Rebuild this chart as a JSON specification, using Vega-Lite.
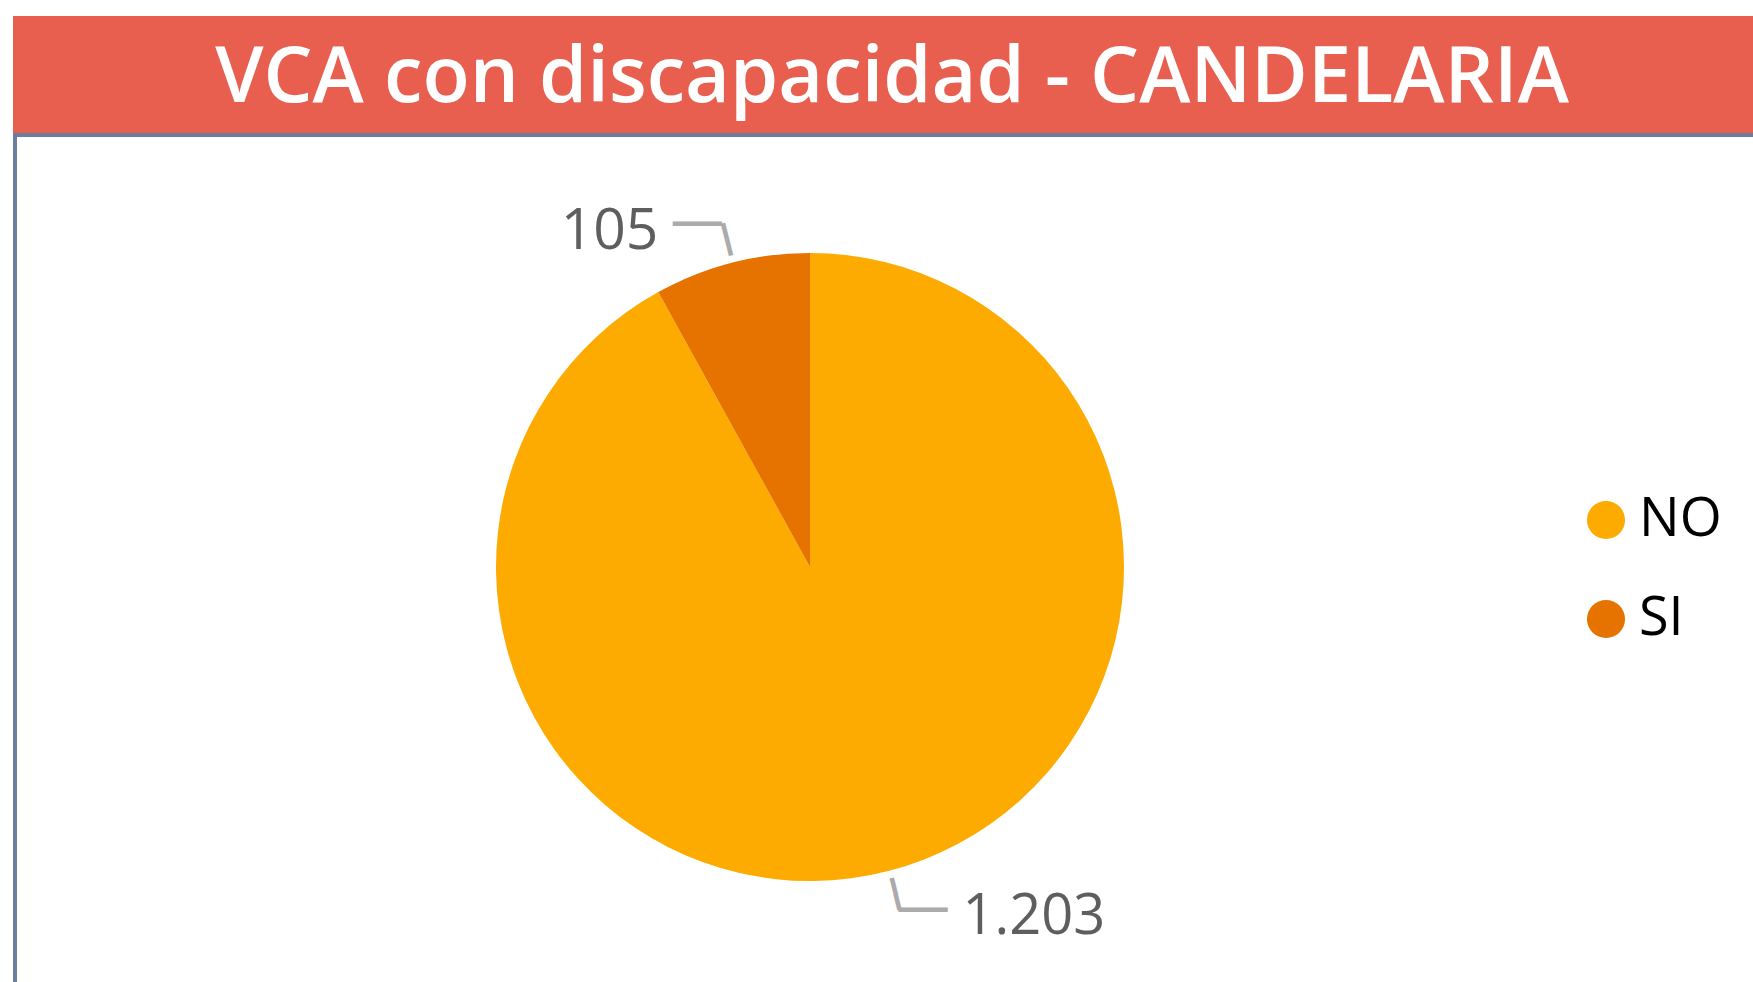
{
  "$schema": "https://vega.github.io/schema/vega-lite/v6.json",
  "padding": {"left": 13, "top": 16, "right": 0, "bottom": 0},
  "background": "white",
  "config": {
    "locale": {"number": {"decimal": ",", "thousands": ".", "grouping": [3], "currency": ["", ""]}},
    "view": {"stroke": null}
  },
  "spacing": 0,
  "vconcat": [
    {
      "width": 1740,
      "height": 117,
      "view": {"fill": "#E85E4F", "stroke": null},
      "data": {"values": [{"title": "VCA con discapacidad - CANDELARIA"}]},
      "mark": {"type": "text", "color": "#FFFFFF", "font": "Open Sans", "fontSize": 77.5, "fontWeight": 600, "baseline": "middle", "align": "center", "dx": 9, "dy": 4},
      "encoding": {"text": {"field": "title"}}
    },
    {
      "width": 1740,
      "height": 4,
      "view": {"fill": "#6B7F9C", "stroke": null},
      "data": {"values": []},
      "mark": {"type": "text", "text": ""}
    },
    {
      "spacing": 0,
      "hconcat": [
        {
          "width": 4,
          "height": 860,
          "view": {"fill": "#6B7F9C", "stroke": null},
          "data": {"values": []},
          "mark": {"type": "text", "text": ""}
        },
        {
          "width": 1586,
          "height": 860,
          "data": {"values": [{"cat": "NO", "count": 1203}, {"cat": "SI", "count": 105}]},
          "encoding": {
            "theta": {"field": "count", "type": "quantitative", "stack": true},
            "order": {"field": "cat", "type": "ordinal", "sort": "ascending"}
          },
          "layer": [
            {
              "mark": {"type": "arc", "radius": 314},
              "encoding": {
                "color": {
                  "field": "cat",
                  "type": "nominal",
                  "scale": {"domain": ["NO", "SI"], "range": ["#FDAB00", "#E67300"]},
                  "legend": {
                    "title": null,
                    "orient": "none",
                    "legendX": 1566,
                    "legendY": 477,
                    "symbolType": "circle",
                    "symbolSize": 1450,
                    "symbolStrokeWidth": 0,
                    "symbolOpacity": 1,
                    "labelFont": "Open Sans",
                    "labelFontSize": 54,
                    "labelColor": "#000000",
                    "labelOffset": 6,
                    "rowPadding": 45
                  }
                }
              }
            },
            {
              "mark": {"type": "text", "radius": 338, "angle": 76, "font": "DejaVu Sans Mono", "fontSize": 27, "color": "#ABABAB", "align": "center", "baseline": "middle", "text": "━━"}
            },
            {
              "mark": {"type": "text", "radius": 355, "font": "DejaVu Sans Mono", "fontSize": 27, "color": "#ABABAB", "align": "right", "baseline": "middle", "dy": 2},
              "encoding": {"text": {"condition": {"test": "datum.cat === 'SI'", "value": "━━━"}, "value": ""}}
            },
            {
              "mark": {"type": "text", "radius": 355, "font": "DejaVu Sans Mono", "fontSize": 27, "color": "#ABABAB", "align": "left", "baseline": "middle"},
              "encoding": {"text": {"condition": {"test": "datum.cat === 'NO'", "value": "━━━"}, "value": ""}}
            },
            {
              "mark": {"type": "text", "radius": 355, "font": "Open Sans", "fontSize": 57, "color": "#5E5E5E", "align": "right", "baseline": "middle", "dx": -63, "dy": 9},
              "encoding": {"text": {"condition": {"test": "datum.cat === 'SI'", "field": "count", "type": "quantitative", "format": ",d"}, "value": ""}}
            },
            {
              "mark": {"type": "text", "radius": 355, "font": "Open Sans", "fontSize": 56, "color": "#5E5E5E", "align": "left", "baseline": "middle", "dx": 64, "dy": 6},
              "encoding": {"text": {"condition": {"test": "datum.cat === 'NO'", "field": "count", "type": "quantitative", "format": ",d"}, "value": ""}}
            }
          ]
        }
      ]
    }
  ]
}
